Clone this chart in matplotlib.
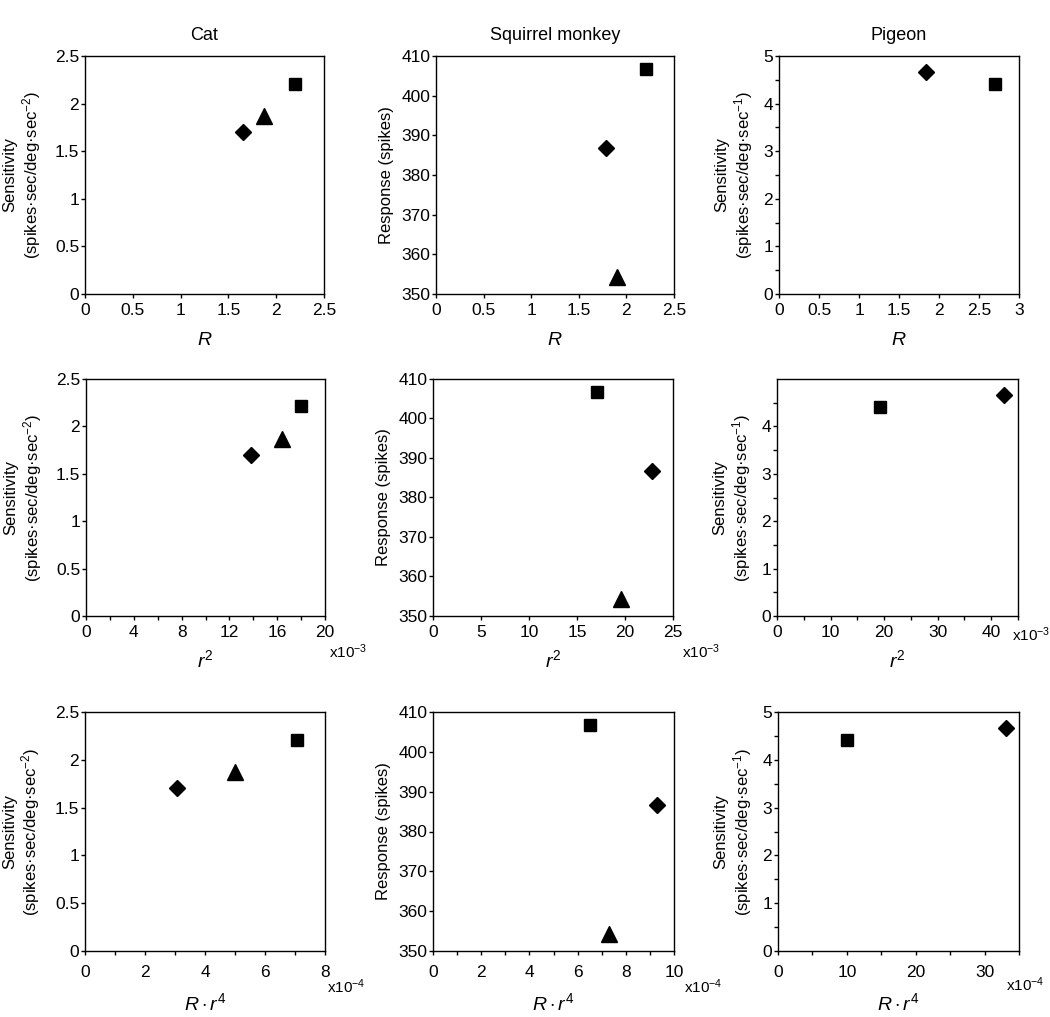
import numpy as np
import matplotlib
matplotlib.use("Agg")
import matplotlib.pyplot as plt

plt.rcParams['font.family'] = ['Liberation Sans', 'DejaVu Sans']
plt.rcParams['mathtext.fontset'] = 'custom'
plt.rcParams['mathtext.rm'] = 'Liberation Sans'
plt.rcParams['mathtext.it'] = 'Liberation Sans:italic'
plt.rcParams['mathtext.bf'] = 'Liberation Sans:bold'

# -------- Data --------
species = ["Cat", "Squirrel monkey", "Pigeon"]

cat_markers = ['D', '^', 's']
cat_R = [1.65, 1.87, 2.20]
cat_r2 = [13.8, 16.4, 18.0]        # x10^-3
cat_Rr4 = [3.08, 4.99, 7.05]       # x10^-4
cat_sens = [1.70, 1.87, 2.21]

monkey_markers = ['D', '^', 's']
monkey_R = [1.79, 1.90, 2.21]
monkey_r2 = [22.8, 19.6, 17.1]     # x10^-3
monkey_Rr4 = [9.31, 7.31, 6.52]    # x10^-4
monkey_resp = [386.7, 354.2, 406.8]

pigeon_markers = ['D', 's']
pigeon_R = [1.84, 2.70]
pigeon_r2 = [42.3, 19.2]           # x10^-3
pigeon_Rr4 = [33.1, 10.0]          # x10^-4
pigeon_sens = [4.67, 4.41]

sens2_label = "Sensitivity\n(spikes·sec/deg·sec$^{-2}$)"
sens1_label = "Sensitivity\n(spikes·sec/deg·sec$^{-1}$)"
resp_label = "Response (spikes)"
x_labels = [r"$R$", r"$r^2$", r"$R \cdot r^4$"]
x_scales = [None, "x10$^{-3}$", "x10$^{-4}$"]

W, H = 1050, 1017
fig = plt.figure(figsize=(W / 100, H / 100), dpi=100)

# axes boxes in pixels: (left, right, top, bottom)
boxes = [
    [(85, 324, 56, 294), (436, 674, 56, 294), (779, 1019, 56, 294)],
    [(86, 325, 379, 616), (433, 673, 379, 616), (777, 1018, 379, 616)],
    [(85, 325, 712, 951), (433, 674, 712, 951), (778, 1019, 712, 951)],
]

# per panel x-axis settings: (xmax, major step, minor step, label stop)
x_setup = [
    [(2.5, 0.5, None, 2.5), (2.5, 0.5, None, 2.5), (3, 0.5, None, 3)],
    [(20, 4, 2, 20), (25, 5, None, 25), (45, 10, 5, 40)],
    [(8, 2, 1, 8), (10, 2, 1, 10), (35, 10, 5, 30)],
]

xdata = [
    [cat_R, monkey_R, pigeon_R],
    [cat_r2, monkey_r2, pigeon_r2],
    [cat_Rr4, monkey_Rr4, pigeon_Rr4],
]
ydata = [cat_sens, monkey_resp, pigeon_sens]
markers = [cat_markers, monkey_markers, pigeon_markers]
ylabels = [sens2_label, resp_label, sens1_label]
ylabel_x = [-0.262, -0.206, -0.185]
msize = {'D': 8.2, '^': 11, 's': 8.5}

# position of the "x10^n" note, pixels: (x start, offset below axis)
scale_pos = [
    [None, None, None],
    [(329, 36), (682, 36), (1012, 19)],
    [(327, 36), (684, 36), (1006, 34)],
]

def fmt(v):
    return ('%g' % v)

for row in range(3):
    for col in range(3):
        l, r, t, b = boxes[row][col]
        ax = fig.add_axes([l / W, 1 - b / H, (r - l) / W, (b - t) / H])
        for x, y, m in zip(xdata[row][col], ydata[col], markers[col]):
            ax.plot(x, y, marker=m, ms=msize[m], color='k', ls='none', clip_on=False)

        xmax, major, minor, lab_stop = x_setup[row][col]
        ax.set_xlim(0, xmax)
        xt = np.arange(0, lab_stop + 1e-9, major)
        ax.set_xticks(xt)
        ax.set_xticklabels([fmt(v) for v in xt])
        if minor:
            ax.set_xticks(np.arange(0, xmax + 1e-9, minor), minor=True)

        if col == 0:
            ax.set_ylim(0, 2.5)
            yt = np.arange(0, 2.51, 0.5)
        elif col == 1:
            ax.set_ylim(350, 410)
            yt = np.arange(350, 411, 10)
        else:
            ax.set_ylim(0, 5)
            yt = np.arange(0, 4.01, 1) if row == 1 else np.arange(0, 5.01, 1)
            ax.set_yticks(np.arange(0.5, 5.0, 1), minor=True)
        ax.set_yticks(yt)
        ax.set_yticklabels([fmt(v) for v in yt])

        for s in ax.spines.values():
            s.set_linewidth(1.0)
        xpad = 7 if row == 2 else 3
        ax.tick_params(axis='x', which='both', direction='out', length=3.2,
                       width=1.0, labelsize=12.5, pad=xpad, top=False)
        ax.tick_params(axis='y', which='both', direction='out', length=3.2,
                       width=1.0, labelsize=12.5, pad=1, right=False)

        ax.set_ylabel(ylabels[col], fontsize=12, va='center', linespacing=1.15)
        ax.yaxis.set_label_coords(ylabel_x[col], 0.5)

        xl_off = [46, 44, 52][row]
        ax.text(0.5, -xl_off / (b - t), x_labels[row], transform=ax.transAxes,
                ha='center', va='center', fontsize=14)

        if scale_pos[row][col]:
            px, off = scale_pos[row][col]
            ax.text((px - l) / (r - l), -off / (b - t), x_scales[row],
                    transform=ax.transAxes, ha='left', va='center', fontsize=11)

        if row == 0:
            ax.text(0.5, 1 + 20 / (b - t), species[col], transform=ax.transAxes,
                    ha='center', va='center', fontsize=13)

fig.savefig("out.png", dpi=100)
